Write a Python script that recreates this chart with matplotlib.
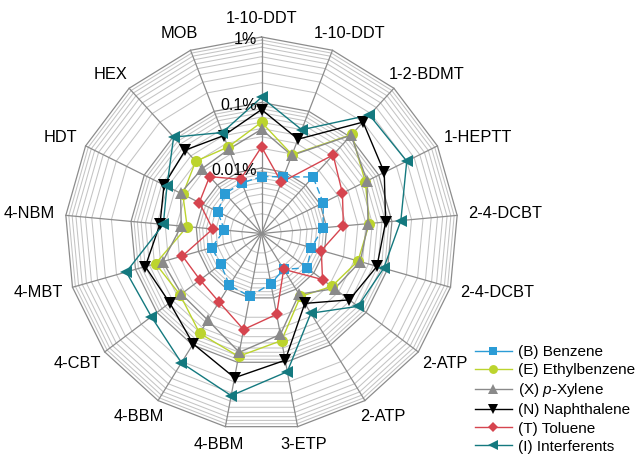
import numpy as np
import matplotlib.pyplot as plt

plt.rcParams['font.family'] = ['Liberation Sans', 'DejaVu Sans']
plt.rcParams['mathtext.fontset'] = 'custom'
plt.rcParams['mathtext.rm'] = 'Liberation Sans'
plt.rcParams['mathtext.it'] = 'Liberation Sans:italic'

# analytes on the radar spokes, clockwise from the top
categories = ['1-10-DDT', '1-10-DDT', '1-2-BDMT', '1-HEPTT', '2-4-DCBT', '2-4-DCBT',
              '2-ATP', '2-ATP', '3-ETP', '4-BBM', '4-BBM', '4-CBT', '4-MBT', '4-NBM',
              'HDT', 'HEX', 'MOB']

# concentrations in %
benzene = [0.0074, 0.0085, 0.0147, 0.0113, 0.0088, 0.0062, 0.0074, 0.0044, 0.0060,
           0.0095, 0.0085, 0.0060, 0.0062, 0.0037, 0.0056, 0.0067, 0.0067]
ethylbenzene = [0.050, 0.0195, 0.111, 0.059, 0.045, 0.034, 0.022, 0.0135, 0.046,
                0.081, 0.062, 0.036, 0.048, 0.0138, 0.022, 0.031, 0.026]
xylene = [0.039, 0.019, 0.107, 0.063, 0.043, 0.037, 0.025, 0.0123, 0.037,
          0.070, 0.036, 0.034, 0.037, 0.017, 0.024, 0.022, 0.024]
naphthalene = [0.078, 0.035, 0.20, 0.124, 0.080, 0.068, 0.048, 0.018, 0.093,
               0.174, 0.096, 0.057, 0.070, 0.036, 0.046, 0.053, 0.040]
toluene = [0.021, 0.0069, 0.042, 0.024, 0.018, 0.0089, 0.0147, 0.0044, 0.018,
           0.031, 0.017, 0.015, 0.018, 0.0056, 0.0115, 0.015, 0.0077]
interferents = [0.12, 0.050, 0.28, 0.30, 0.137, 0.087, 0.070, 0.027, 0.14,
                0.33, 0.21, 0.128, 0.14, 0.032, 0.041, 0.098, 0.045]

series = [
    ('(B) Benzene', benzene, '#2b9cd6', 's', 6.5, (0, (5, 2.5))),
    ('(E) Ethylbenzene', ethylbenzene, '#bcd42e', 'o', 8, '-'),
    ('(X) $\\it{p}$-Xylene', xylene, '#8a8a8a', '^', 8.5, '-'),
    ('(N) Naphthalene', naphthalene, '#000000', 'v', 8.5, '-'),
    ('(T) Toluene', toluene, '#d6454f', 'D', 6.5, '-'),
    ('(I) Interferents', interferents, '#14797f', '<', 8.5, '-'),
]

vmin, vmax = 0.001, 1.0
def rad(v):
    return (np.log10(v) - np.log10(vmin)) / (np.log10(vmax) - np.log10(vmin))

n = len(categories)
theta = np.pi / 2 - 2 * np.pi * np.arange(n) / n

R = 196.5  # px per unit radius
cx, cy = 261.5, 233.5
W, H = 640, 458
fig = plt.figure(figsize=(W / 100, H / 100), dpi=100)
ax = fig.add_axes([0, 0, 1, 1])
ax.set_xlim(-cx / R, (W - cx) / R)
ax.set_ylim(-(H - cy) / R, cy / R)
ax.axis('off')

# polygon grid: minor rings at 2..9 of each decade, major ring per decade
closed = np.append(theta, theta[0])
for k in range(-3, 0):
    for m in range(2, 10):
        r = rad(m * 10.0 ** k)
        ax.plot(r * np.cos(closed), r * np.sin(closed), color='#c4c4c4', lw=0.75, zorder=1)
for k in range(-2, 1):
    r = rad(10.0 ** k)
    ax.plot(r * np.cos(closed), r * np.sin(closed), color='#8c8c8c', lw=0.9, zorder=2)
for t in theta:
    ax.plot([0, np.cos(t)], [0, np.sin(t)], color='#8c8c8c', lw=0.9, zorder=2)

# scale labels on the first spoke
for v, lab in [(0.01, '0.01%'), (0.1, '0.1%'), (1.0, '1%')]:
    ax.text(-4.5 / R, rad(v) - 2.5 / R, lab, ha='right', va='center', fontsize=11.5, zorder=6)

# category labels pushed out past the outer ring
renderer = fig.canvas.get_renderer()
pad = 11 / R
for t, lab in zip(theta, categories):
    txt = ax.text(0, 0, lab, ha='center', va='center', fontsize=11.8)
    bb = txt.get_window_extent(renderer)
    w, h = bb.width / R, bb.height / R
    x = (1 + pad) * np.cos(t) + np.cos(t) * w / 2
    y = (1 + pad) * np.sin(t) + np.sin(t) * h / 2
    txt.set_position((x, y))

for i, (lab, vals, col, mk, ms, ls) in enumerate(series):
    r = rad(np.array(vals))
    xs = np.append(r * np.cos(theta), r[0] * np.cos(theta[0]))
    ys = np.append(r * np.sin(theta), r[0] * np.sin(theta[0]))
    ax.plot(xs, ys, color=col, lw=1.0, ls=ls, zorder=3 + i * 0.1)
    ax.plot(r * np.cos(theta), r * np.sin(theta), ls='none', marker=mk, ms=ms,
            color=col, markeredgewidth=0, zorder=4 + i * 0.1, label=lab)

# legend proxies with line and marker together
handles = [plt.Line2D([], [], color=col, lw=1.0, marker=mk, ms=ms * 0.8, markeredgewidth=0)
           for lab, vals, col, mk, ms, ls in series]
labels = [s[0] for s in series]
fig.legend(handles, labels, loc='upper left', bbox_to_anchor=(475 / W, 1 - 345 / H),
           frameon=False, fontsize=11, handlelength=2.4, handletextpad=0.4,
           labelspacing=0.27, borderpad=0, borderaxespad=0)

fig.savefig('out.png', dpi=100)
